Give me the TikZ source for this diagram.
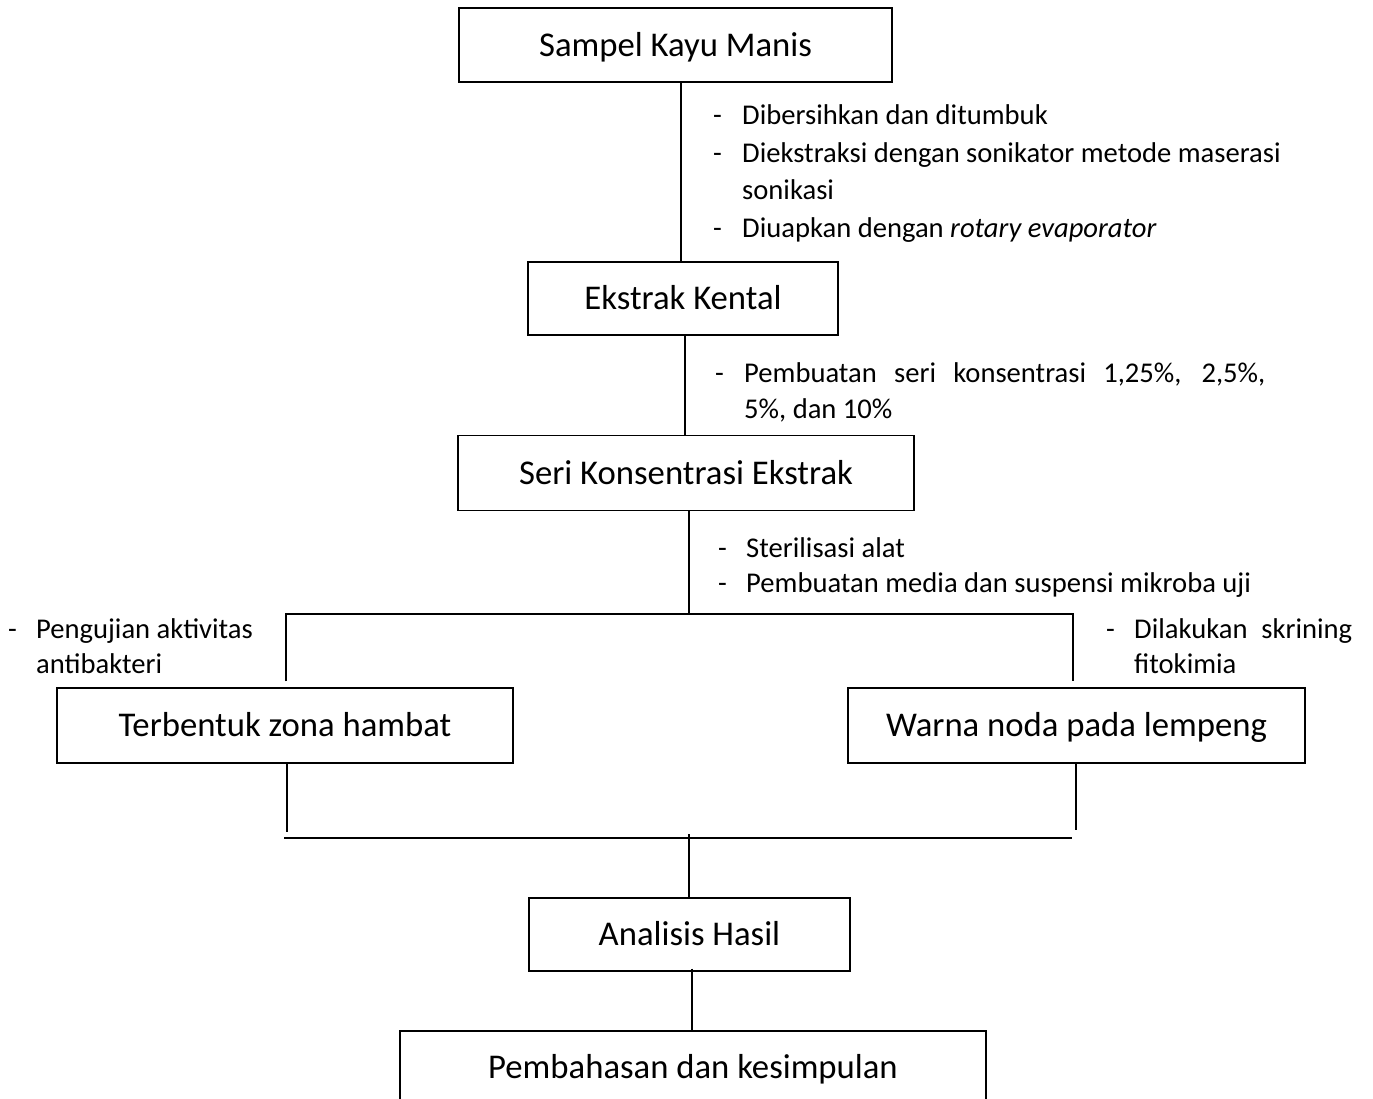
\documentclass[tikz,border=0pt]{standalone}
\usepackage{fontspec}
\setmainfont{Carlito}
\begin{document}
\begin{tikzpicture}[x=1pt,y=-1pt,
  flowbox/.style={draw=black, line width=1.2pt, inner sep=0pt,
    font=\fontsize{34.7}{40}\selectfont, text height=25.8pt, text depth=3.5pt},
  lbl/.style={anchor=base west, inner sep=0pt, font=\fontsize{28.6}{34}\selectfont},
  conn/.style={draw=black, line width=1.2pt}]
\fill[white] (0,0) rectangle (1373,1099);
\useasboundingbox (0,0) rectangle (1373,1099);

% boxes
\node[flowbox, minimum width=433pt, minimum height=74pt] (b1) at (675.5,45) {Sampel Kayu Manis};
\node[flowbox, minimum width=310pt, minimum height=73pt] (b2) at (683,298.5) {Ekstrak Kental};
\node[flowbox, minimum width=456pt, minimum height=75pt] (b3) at (686,473) {Seri Konsentrasi Ekstrak};
\node[flowbox, minimum width=456pt, minimum height=75pt] (b4) at (285,725.5) {Terbentuk zona hambat};
\node[flowbox, minimum width=457pt, minimum height=75pt] (b5) at (1076.5,725.5) {Warna noda pada lempeng};
\node[flowbox, minimum width=321pt, minimum height=73pt] (b6) at (689.5,934.5) {Analisis Hasil};
\node[flowbox, minimum width=586pt, minimum height=73pt] (b7) at (693,1067.5) {Pembahasan dan kesimpulan};

% junction coordinates
\coordinate (split) at (689,614);
\coordinate (jL) at (286,614);
\coordinate (jR) at (1073,614);
\coordinate (bL) at (287,832);
\coordinate (bR) at (1076,830);
\coordinate (hL) at (284,838);
\coordinate (hR) at (1072,838);
\coordinate (mid) at (689,834);

% connectors
\draw[conn] ([xshift=5.5pt]b1.south) -- ([xshift=-2pt]b2.north);
\draw[conn] ([xshift=2pt]b2.south) -- ([xshift=-1pt]b3.north);
\draw[conn] ([xshift=3pt]b3.south) -- (split);
\draw[conn] ([xshift=1pt,yshift=6pt]b4.north) -- (jL) -- (jR) -- ([xshift=-3.5pt,yshift=6pt]b5.north);
\draw[conn] ([xshift=2pt]b4.south) -- (bL);
\draw[conn] ([xshift=-0.5pt]b5.south) -- (bR);
\draw[draw=black, line width=2pt] (hL) -- (hR);
\draw[conn] (mid) -- ([xshift=-0.5pt]b6.north);
\draw[conn] ([xshift=2.5pt,yshift=3pt]b6.south) -- ([xshift=-1pt]b7.north);

% labels step 1
\node[lbl] (l1d1) at (713,125) {-};
\node[lbl] (l1t1) at (742,125) {Dibersihkan dan ditumbuk};
\node[lbl] (l1d2) at (713,163) {-};
\node[lbl] (l1t2) at (742,163) {Diekstraksi dengan sonikator metode maserasi};
\node[lbl] (l1t3) at (742,200) {sonikasi};
\node[lbl] (l1d4) at (713,238) {-};
\node[lbl] (l1t4) at (742,238) {Diuapkan dengan \textit{rotary evaporator}};

% labels step 2
\node[lbl] (l2d1) at (715,382) {-};
\node[lbl] (l2t1) at (744,382) {\makebox[521pt][s]{Pembuatan seri konsentrasi 1,25\%, 2,5\%,}};
\node[lbl] (l2t2) at (744,418) {5\%, dan 10\%};

% labels step 3
\node[lbl] (l3d1) at (718,557) {-};
\node[lbl] (l3t1) at (746,557) {Sterilisasi alat};
\node[lbl] (l3d2) at (718,592) {-};
\node[lbl] (l3t2) at (746,592) {Pembuatan media dan suspensi mikroba uji};

% left label
\node[lbl] (lld) at (8,638) {-};
\node[lbl] (llt1) at (36,638) {Pengujian aktivitas};
\node[lbl] (llt2) at (36,673) {antibakteri};

% right label
\node[lbl] (lrd) at (1106,638) {-};
\node[lbl] (lrt1) at (1134,638) {\makebox[218pt][s]{Dilakukan skrining}};
\node[lbl] (lrt2) at (1134,673) {fitokimia};
\end{tikzpicture}
\end{document}
